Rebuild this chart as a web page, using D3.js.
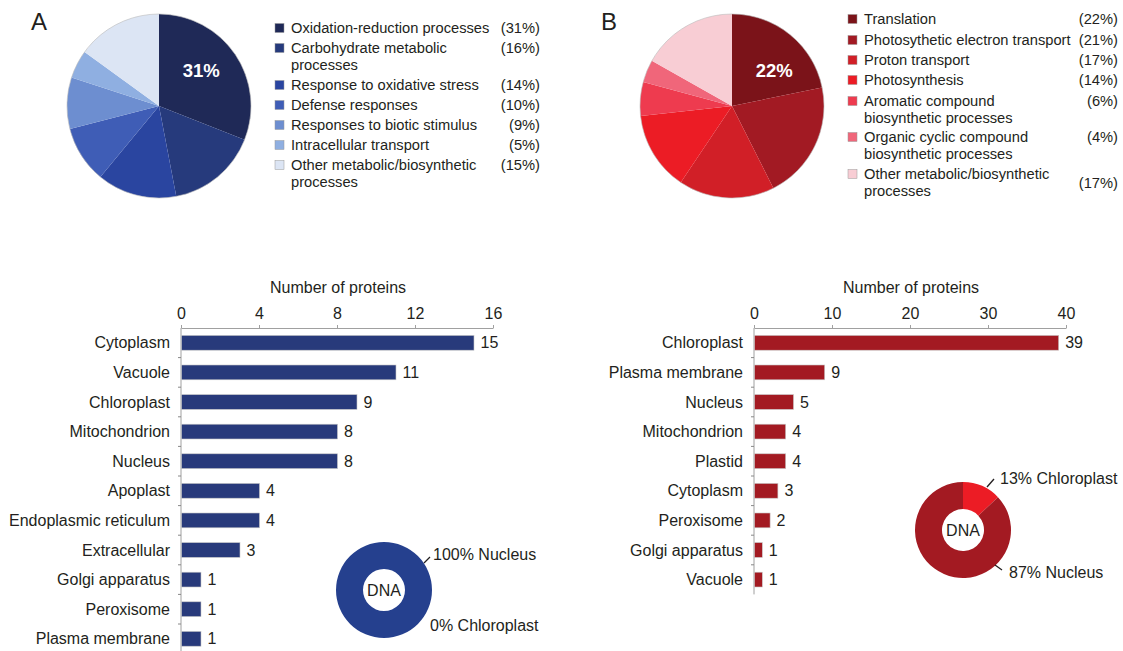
<!DOCTYPE html>
<html>
<head>
<meta charset="utf-8">
<script src="https://cdn.jsdelivr.net/npm/d3@7"></script>
<style>
  html, body { margin: 0; padding: 0; background: #fff; }
  svg { display: block; font-family: "Liberation Sans", Arial, sans-serif; }
</style>
</head>
<body>
<svg id="chart" width="1123" height="651"></svg>
<script>
// ---------- DATA ----------
const pieALabels = [["Oxidation-reduction processes"], ["Carbohydrate metabolic", "processes"], ["Response to oxidative stress"], ["Defense responses"], ["Responses to biotic stimulus"], ["Intracellular transport"], ["Other metabolic/biosynthetic", "processes"]];
const pieAValues = [31, 16, 14, 10, 9, 5, 15];
const pieAColors = ["#1f2957", "#263a7c", "#2a45a0", "#3f5db6", "#6d8ed0", "#8fafe1", "#dce5f4"];

const pieBLabels = [["Translation"], ["Photosythetic electron transport"], ["Proton transport"], ["Photosynthesis"], ["Aromatic compound", "biosynthetic processes"], ["Organic cyclic compound", "biosynthetic processes"], ["Other metabolic/biosynthetic", "processes"]];
const pieBValues = [22, 21, 17, 14, 6, 4, 17];
const pieBColors = ["#7b1319", "#a21a23", "#d11f27", "#ec1c25", "#ee3b4f", "#f0667a", "#f8cdd4"];

const barACategories = ["Cytoplasm", "Vacuole", "Chloroplast", "Mitochondrion", "Nucleus", "Apoplast", "Endoplasmic reticulum", "Extracellular", "Golgi apparatus", "Peroxisome", "Plasma membrane"];
const barAValues = [15, 11, 9, 8, 8, 4, 4, 3, 1, 1, 1];
const barATicks = [0, 4, 8, 12, 16];

const barBCategories = ["Chloroplast", "Plasma membrane", "Nucleus", "Mitochondrion", "Plastid", "Cytoplasm", "Peroxisome", "Golgi apparatus", "Vacuole"];
const barBValues = [39, 9, 5, 4, 4, 3, 2, 1, 1];
const barBTicks = [0, 10, 20, 30, 40];

const donutALabels = ["Nucleus", "Chloroplast"];
const donutAValues = [100, 0];
const donutBLabels = ["Chloroplast", "Nucleus"];
const donutBValues = [13, 87];

// ---------- DRAW ----------
const svg = d3.select("#chart");
const textColor = "#231f20";
const FS = 16;      // bar/axis font size
const LFS = 14.7;   // legend font size

function drawPie(cx, cy, r, values, colors, labelText) {
  const g = svg.append("g").attr("transform", `translate(${cx},${cy})`);
  const pie = d3.pie().sort(null).value(d => d);
  const arcs = pie(values);
  const arc = d3.arc().innerRadius(0).outerRadius(r);
  g.selectAll("path").data(arcs).join("path")
    .attr("d", arc)
    .attr("fill", (d, i) => colors[i]);
  g.append("circle").attr("r", r).attr("fill", "none").attr("stroke", "#bbb").attr("stroke-width", 0.6);
  g.append("text").attr("x", r * 0.46).attr("y", -r * 0.39)
    .attr("text-anchor", "middle").attr("dominant-baseline", "central")
    .attr("fill", "#fff").attr("font-weight", "bold").attr("font-size", 18.5)
    .text(labelText);
}

function drawLegend(x, xr, rows, labels, values, colors, pctMiddleLast) {
  labels.forEach((lines, i) => {
    const y = rows[i];
    svg.append("rect").attr("x", x).attr("y", y - 4.5).attr("width", 9).attr("height", 9)
      .attr("fill", colors[i]).attr("stroke", "#999").attr("stroke-width", 0.5);
    const t = svg.append("text").attr("x", x + 16).attr("y", y).attr("font-size", LFS)
      .attr("fill", textColor).attr("dominant-baseline", "central");
    lines.forEach((ln, j) => {
      t.append("tspan").attr("x", x + 16).attr("dy", j === 0 ? 0 : 16.5).text(ln);
    });
    const py = (pctMiddleLast && i === labels.length - 1 && lines.length > 1) ? y + 8.5 : y;
    svg.append("text").attr("x", xr).attr("y", py).attr("font-size", LFS).attr("text-anchor", "end")
      .attr("fill", textColor).attr("dominant-baseline", "central")
      .text("(" + values[i] + "%)");
  });
}

function drawBars(x0, width, top, step, cats, vals, ticks, color, titleText) {
  const x = d3.scaleLinear().domain([ticks[0], ticks[ticks.length - 1]]).range([x0, x0 + width]);
  const y = d3.scaleBand().domain(cats).range([top, top + cats.length * step]).paddingInner(0.5).paddingOuter(0.25);
  const g = svg.append("g");
  const ax = g.append("g").attr("transform", `translate(0,${top})`)
    .call(d3.axisTop(x).tickValues(ticks).tickSize(3).tickSizeOuter(0));
  ax.select(".domain").attr("stroke", "#a0a0a0");
  ax.selectAll(".tick line").attr("stroke", "#a0a0a0");
  ax.selectAll(".tick text").attr("font-size", FS).attr("fill", textColor).attr("font-family", "Liberation Sans, Arial, sans-serif").attr("dy", "-0.2em");
  g.append("text").attr("x", x0 + width / 2 + 1).attr("y", top - 41).attr("text-anchor", "middle")
    .attr("font-size", FS).attr("fill", textColor).attr("dominant-baseline", "central").text(titleText);
  // left axis line with boundary ticks
  const bottom = top + cats.length * step;
  g.append("line").attr("x1", x0).attr("x2", x0).attr("y1", top).attr("y2", bottom).attr("stroke", "#a0a0a0");
  g.selectAll("line.bt").data(cats.slice(1)).join("line").attr("class", "bt")
    .attr("x1", x0 - 3).attr("x2", x0)
    .attr("y1", d => y(d) - y.step() * 0.25).attr("y2", d => y(d) - y.step() * 0.25)
    .attr("stroke", "#888");
  g.selectAll("rect.bar").data(cats).join("rect").attr("class", "bar")
    .attr("x", x0 + 0.5).attr("y", d => y(d))
    .attr("width", (d, i) => x(vals[i]) - x0)
    .attr("height", y.bandwidth())
    .attr("fill", color).attr("stroke", "#c8c8c8").attr("stroke-width", 0.6);
  g.selectAll("text.cat").data(cats).join("text").attr("class", "cat")
    .attr("x", x0 - 11).attr("y", d => y(d) + y.bandwidth() / 2)
    .attr("text-anchor", "end").attr("dominant-baseline", "central")
    .attr("font-size", FS).attr("fill", textColor).text(d => d);
  g.selectAll("text.val").data(cats).join("text").attr("class", "val")
    .attr("x", (d, i) => x(vals[i]) + 7).attr("y", d => y(d) + y.bandwidth() / 2)
    .attr("dominant-baseline", "central")
    .attr("font-size", FS).attr("fill", textColor).text((d, i) => vals[i]);
}

function drawDonut(cx, cy, ro, ri, values, colors) {
  const g = svg.append("g").attr("transform", `translate(${cx},${cy})`);
  const pie = d3.pie().sort(null).value(d => d);
  const arc = d3.arc().innerRadius(ri).outerRadius(ro);
  g.selectAll("path").data(pie(values)).join("path").attr("d", arc).attr("fill", (d, i) => colors[i]);
  g.append("text").attr("text-anchor", "middle").attr("dominant-baseline", "central")
    .attr("font-size", FS).attr("fill", textColor).text("DNA");
}

// Panel letters
svg.append("text").attr("x", 31).attr("y", 30).attr("font-size", 24).attr("fill", textColor).text("A");
svg.append("text").attr("x", 601).attr("y", 30).attr("font-size", 24).attr("fill", textColor).text("B");

// Pies
drawPie(159, 106, 92, pieAValues, pieAColors, "31%");
drawPie(732, 106, 92, pieBValues, pieBColors, "22%");

// Legends
drawLegend(275, 540, [28, 48, 85, 105, 125, 145, 165], pieALabels, pieAValues, pieAColors, false);
drawLegend(848, 1118, [19, 40, 60, 80, 101, 137, 174], pieBLabels, pieBValues, pieBColors, true);

// Bar charts
drawBars(181, 312, 328, 29.6, barACategories, barAValues, barATicks, "#283a7b", "Number of proteins");
drawBars(754, 312, 328, 29.6, barBCategories, barBValues, barBTicks, "#a31a22", "Number of proteins");

// Donuts
drawDonut(384, 590, 48, 21, donutAValues, ["#25408e", "#ec1c25"]);
drawDonut(963, 530, 48, 21, donutBValues, ["#ec1c25", "#a31a22"]);

// Donut annotations
function note(x1, y1, x2, y2, tx, ty, txt) {
  svg.append("line").attr("x1", x1).attr("y1", y1).attr("x2", x2).attr("y2", y2).attr("stroke", "#231f20").attr("stroke-width", 1.3);
  svg.append("text").attr("x", tx).attr("y", ty).attr("font-size", FS).attr("fill", textColor)
    .attr("dominant-baseline", "central").text(txt);
}
note(424, 563, 430, 557, 433, 554, donutAValues[0] + "% " + donutALabels[0]);
svg.append("text").attr("x", 430).attr("y", 625).attr("font-size", FS).attr("fill", textColor)
  .attr("dominant-baseline", "central").text(donutAValues[1] + "% " + donutALabels[1]);
note(987, 487, 994, 479, 1000, 478, donutBValues[0] + "% " + donutBLabels[0]);
note(995, 565, 1002, 570, 1009, 572, donutBValues[1] + "% " + donutBLabels[1]);
</script>
</body>
</html>
